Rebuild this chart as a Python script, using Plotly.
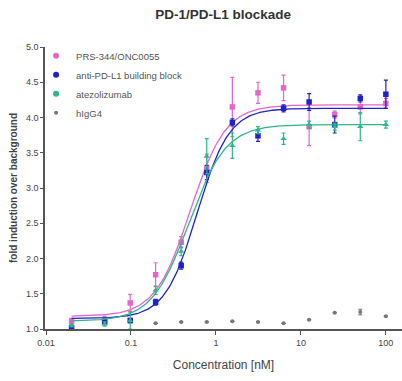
import numpy as np
import plotly.graph_objects as go

conc = [0.02, 0.049, 0.098, 0.195, 0.39, 0.78, 1.56, 3.125, 6.25, 12.5, 25, 50, 100]

prs_y   = [1.11, 1.13, 1.37, 1.77, 2.23, 3.28, 4.15, 4.35, 4.42, 3.87, 4.04, 4.15, 4.20]
prs_err = [0.04, 0.05, 0.12, 0.17, 0.08, 0.20, 0.42, 0.15, 0.18, 0.27, 0.05, 0.10, 0.07]

apdl1_y   = [1.02, 1.10, 1.12, 1.38, 1.90, 3.22, 3.93, 3.74, 4.13, 4.22, 3.90, 4.27, 4.33]
apdl1_err = [0.02, 0.03, 0.03, 0.04, 0.05, 0.10, 0.05, 0.08, 0.05, 0.12, 0.12, 0.05, 0.20]

atezo_y   = [1.05, 1.07, 1.12, 1.55, 2.10, 3.45, 3.60, 3.82, 3.70, 3.90, 3.87, 3.87, 3.90]
atezo_err = [0.02, 0.03, 0.12, 0.06, 0.06, 0.25, 0.18, 0.05, 0.08, 0.05, 0.05, 0.20, 0.05]

higg4_conc = [0.195, 0.39, 0.78, 1.56, 3.125, 6.25, 12.5, 25, 50, 100]
higg4_y    = [1.08, 1.10, 1.10, 1.11, 1.10, 1.08, 1.13, 1.23, 1.24, 1.18]
higg4_err  = [0.00, 0.00, 0.00, 0.00, 0.00, 0.00, 0.00, 0.00, 0.04, 0.00]

# 4-parameter logistic fit parameters: bottom, top, EC50, Hill slope
prs_fit   = [1.18, 4.18, 0.50, 2.1]
apdl1_fit = [1.15, 4.13, 0.60, 2.3]
atezo_fit = [1.11, 3.90, 0.48, 2.0]

names = ["PRS-344/ONC0055", "anti-PD-L1 building block", "atezolizumab", "hIgG4"]
colors = ["#e466c8", "#1f22c4", "#2fb58a", "#777777"]
symbols = ["square", "square", "triangle-up", "circle"]

def four_pl(x, p):
    b, t, ec, h = p
    return b + (t - b) / (1.0 + (ec / x) ** h)

xfit = np.logspace(np.log10(conc[0]), np.log10(conc[-1]), 300)

fig = go.Figure()
series = [(prs_y, prs_err, prs_fit), (apdl1_y, apdl1_err, apdl1_fit), (atezo_y, atezo_err, atezo_fit)]
for i, (ys, errs, fit) in enumerate(series):
    fig.add_trace(go.Scatter(x=xfit, y=four_pl(xfit, fit), mode="lines",
                             line=dict(color=colors[i], width=1.3), showlegend=False, hoverinfo="skip"))
    fig.add_trace(go.Scatter(x=conc, y=ys, mode="markers",
                             marker=dict(color=colors[i], size=5.5, symbol=symbols[i]),
                             error_y=dict(type="data", array=errs, color=colors[i], thickness=1.2, width=2),
                             showlegend=False))
    fig.add_trace(go.Scatter(x=[None], y=[None], mode="markers", name=names[i],
                             marker=dict(color=colors[i], size=6, symbol="circle")))

fig.add_trace(go.Scatter(x=higg4_conc, y=higg4_y, mode="markers", name=names[3],
                         marker=dict(color=colors[3], size=4, symbol="circle"),
                         error_y=dict(type="data", array=higg4_err, color=colors[3], thickness=1, width=2)))

font_fam = "Liberation Sans, Arial, sans-serif"
fig.update_layout(
    width=402, height=381,
    margin=dict(l=45, r=0, t=47, b=52),
    paper_bgcolor="white", plot_bgcolor="white",
    font=dict(family=font_fam, color="#444444", size=9),
    title=dict(text="<b>PD-1/PD-L1 blockade</b>", x=0.555, xanchor="center", y=0.962, yanchor="middle",
               font=dict(size=13.5, color="#333333")),
    legend=dict(x=-0.025, y=1.02, xanchor="left", yanchor="top", bgcolor="rgba(0,0,0,0)",
                font=dict(size=9.5, color="#555555"), itemwidth=30, tracegroupgap=0),
    showlegend=True,
)
fig.update_xaxes(type="log", range=[-2.012, 2.19], showgrid=False, zeroline=False,
                 showline=True, linecolor="#555555", linewidth=1.5,
                 tickvals=[0.01, 0.1, 1, 10, 100], ticktext=["0.01", "0.1", "1", "10", "100"],
                 ticks="outside", ticklen=4, tickcolor="#555555",
                 tickfont=dict(size=9, color="#444444"),
                 title=dict(text="Concentration [nM]", font=dict(size=12, color="#444444"), standoff=14))
fig.update_yaxes(range=[1.0, 5.0], showgrid=False, zeroline=False,
                 showline=True, linecolor="#555555", linewidth=1.5,
                 tickvals=[1.0, 1.5, 2.0, 2.5, 3.0, 3.5, 4.0, 4.5, 5.0], tickformat=".1f",
                 ticks="outside", ticklen=3, tickcolor="#555555",
                 tickfont=dict(size=9, color="#444444"),
                 title=dict(text="<b>fold induction over background</b>", font=dict(size=10, color="#444444"), standoff=6))

fig.write_html("out.html")
